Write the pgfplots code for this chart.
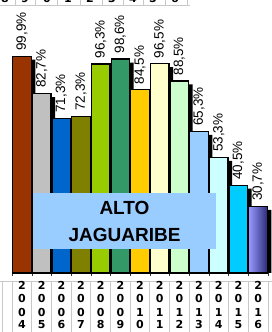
\documentclass[border=0pt]{standalone}
\usepackage{pgfplots}
\pgfplotsset{compat=1.18}
\usepackage{pgfplotstable}
\usepackage{fontspec}
\setmainfont{Liberation Sans}
\newfontfamily\djv{DejaVu Sans}

\definecolor{c0}{HTML}{993300}
\definecolor{c1}{HTML}{C0C0C0}
\definecolor{c2}{HTML}{0066CC}
\definecolor{c3}{HTML}{808000}
\definecolor{c4}{HTML}{99CC00}
\definecolor{c5}{HTML}{339966}
\definecolor{c6}{HTML}{FFCC00}
\definecolor{c7}{HTML}{FFFFCC}
\definecolor{c8}{HTML}{CCFFCC}
\definecolor{c9}{HTML}{99CCFF}
\definecolor{c10}{HTML}{CCFFFF}
\definecolor{c11}{HTML}{00CCFF}
\definecolor{c12a}{HTML}{9999FF}
\definecolor{c12b}{HTML}{2B2B7A}
\definecolor{boxblue}{HTML}{99CCFF}
\definecolor{gridgray}{HTML}{C8C8C8}

\pgfplotstableread{
x v
0 99.9
1 82.7
2 71.3
3 72.3
4 96.3
5 98.6
6 84.5
7 96.5
8 88.5
9 65.3
10 53.3
11 40.5
12 30.7
}\datatable

\begin{document}
\begin{tikzpicture}[x=1pt,y=1pt]
\path[use as bounding box] (0,0) rectangle (272,332);
\clip (0,0) rectangle (272,332);
% table grid below the chart
\draw[gridgray, line width=0.8pt] (0,51) -- (272,51);
\foreach \k in {0,...,13} {
  \draw[gridgray, line width=0.8pt] ({12.2+19.67*\k},51) -- ({12.2+19.67*\k},0);
}
\draw[gridgray, line width=0.8pt] (2,51) -- (2,0);
% year digits in the table, one column per bar
\foreach \i/\c/\d in {0/0/4,1/0/5,2/0/6,3/0/7,4/0/8,5/0/9,6/1/0,7/1/1,8/1/2,9/1/3,10/1/4,11/1/5,12/1/6} {
  \begin{scope}[every node/.style={anchor=base, inner sep=0pt, font=\djv\bfseries\fontsize{11}{13}\selectfont}]
  \node at ({12.2+19.67*(\i+0.5)},42) {2};
  \node at ({12.2+19.67*(\i+0.5)},29) {0};
  \node at ({12.2+19.67*(\i+0.5)},16) {\c};
  \node at ({12.2+19.67*(\i+0.5)},3) {\d};
  \end{scope}
}
% remnant row at the top
\draw[gridgray, line width=0.8pt] (0,327) -- (190,327);
\foreach \xx in {15,35,57,80,102,123,143,165,187} {
  \draw[gridgray, line width=0.8pt] (\xx,327) -- (\xx,332);
}
\foreach \xx/\d in {5/8,25/9,47/0,68/1,90/2,112/3,133/4,153/5,175/6} {
  \node[anchor=base, inner sep=0, font=\djv\bfseries\fontsize{11}{13}\selectfont] at (\xx,329.5) {\d};
}
\begin{axis}[
  at={(12.2pt,59pt)}, anchor=south west,
  scale only axis, width=255.7pt, height=271.25pt,
  xmin=-0.5, xmax=12.5, ymin=0, ymax=125,
  axis y line=none, axis x line*=bottom,
  axis line style={-, black!80, line width=0.8pt},
  xtick={0,...,12}, xticklabels={},
  major tick length=0pt,
  minor xtick={-0.5,0.5,...,12.5}, minor tick length=3pt,
  tick align=outside,
  tick style={black!80, line width=0.6pt},
  clip=false,
  /pgf/number format/.cd, use comma, fixed, fixed zerofill, precision=1, assume math mode=true,
  /pgfplots/.cd,
  lbl/.style={nodes near coords={\pgfmathprintnumber{\pgfplotspointmeta}\%},
    every node near coord/.append style={rotate=90, anchor=west, inner xsep=5pt,
      text=black, font=\fontsize{13.5}{14}\selectfont}},
  bb/.style={ybar, bar width=18.6pt, bar shift=0pt, draw=black, line width=1.1pt},
]
% shadows
\addplot[ybar, bar width=18.6pt, bar shift=4pt, fill=black, draw=none]
  table[x=x, y expr=\thisrow{v}-1.6]{\datatable};
\addplot[bb, fill=c0, lbl] coordinates {(0,99.9)};
\addplot[bb, fill=c1, lbl] coordinates {(1,82.7)};
\addplot[bb, fill=c2, lbl] coordinates {(2,71.3)};
\addplot[bb, fill=c3, lbl] coordinates {(3,72.3)};
\addplot[bb, fill=c4, lbl] coordinates {(4,96.3)};
\addplot[bb, fill=c5, lbl] coordinates {(5,98.6)};
\addplot[bb, fill=c6, lbl] coordinates {(6,84.5)};
\addplot[bb, fill=c7, lbl] coordinates {(7,96.5)};
\addplot[bb, fill=c8, lbl] coordinates {(8,88.5)};
\addplot[bb, fill=c9, lbl] coordinates {(9,65.3)};
\addplot[bb, fill=c10, lbl] coordinates {(10,53.3)};
\addplot[bb, fill=c11, lbl] coordinates {(11,40.5)};
\addplot[bb, left color=c12a, right color=c12b, lbl] coordinates {(12,30.7)};
\end{axis}
\node[fill=boxblue, minimum width=183pt, minimum height=56pt, inner sep=0pt,
  align=center, font=\bfseries\fontsize{19}{27}\selectfont] at (124.5,111) {ALTO\\JAGUARIBE};
\end{tikzpicture}
\end{document}
